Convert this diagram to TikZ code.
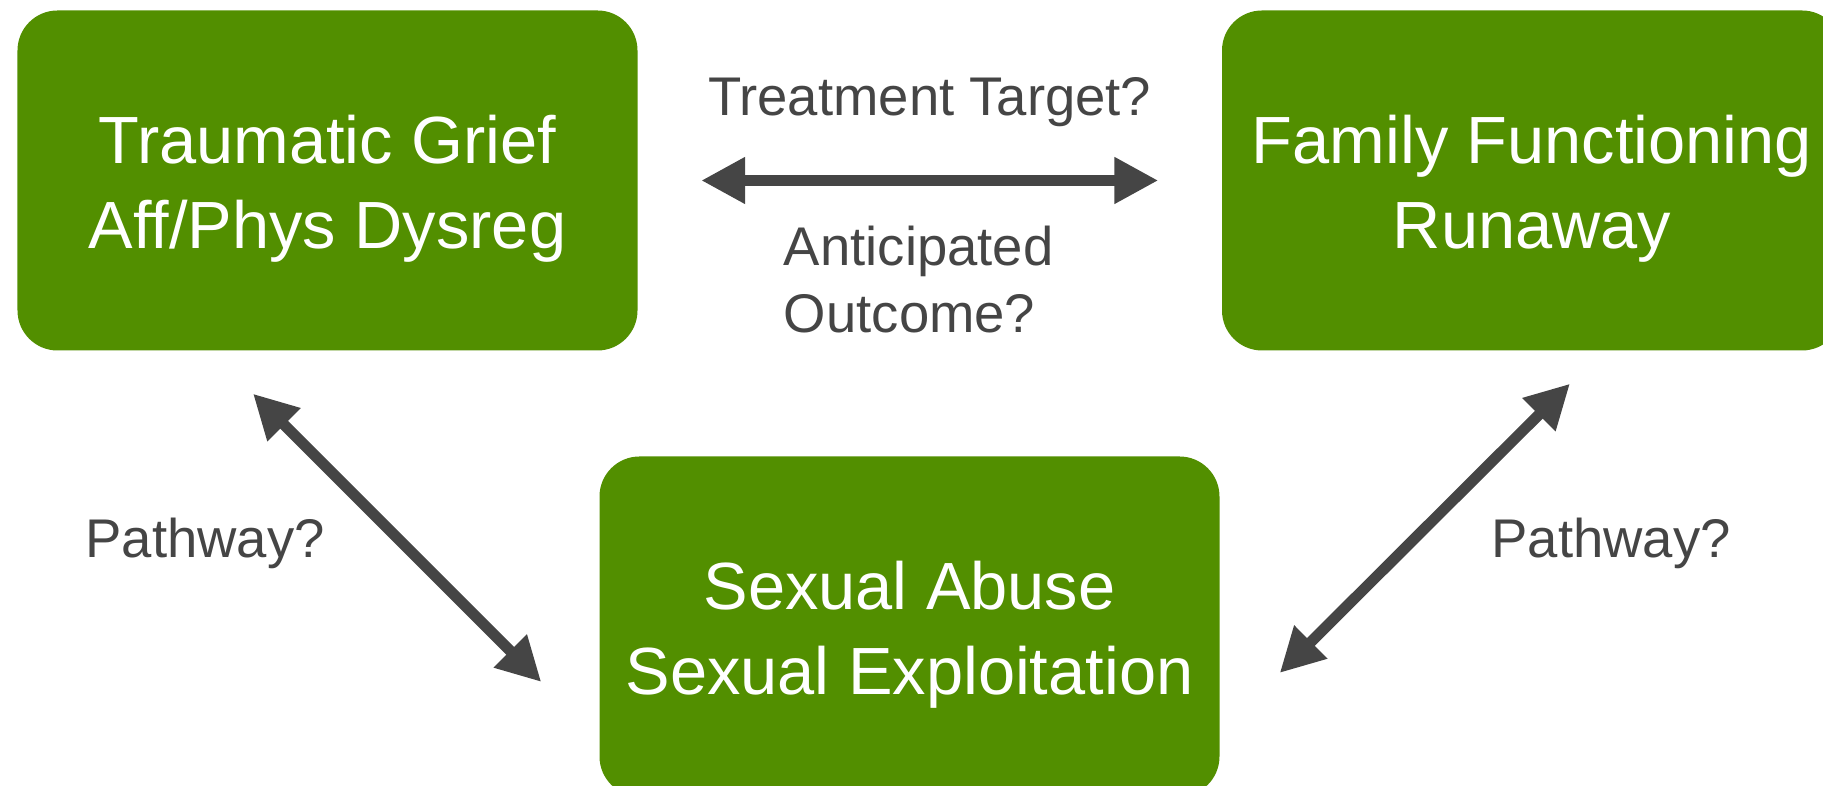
\documentclass[tikz,border=0pt]{standalone}
\usepackage{fontspec}
\setmainfont{Liberation Sans}
\usetikzlibrary{arrows.meta}
\definecolor{boxgreen}{RGB}{82,143,0}
\definecolor{notegray}{RGB}{69,69,69}

\begin{document}
\begin{tikzpicture}[
  block/.style = {
    shape=rectangle,
    rounded corners=4mm,
    minimum width=6.2cm,
    minimum height=3.4cm,
    fill=boxgreen,
    text=white,
    font=\fontsize{19}{24.2}\selectfont,
    execute at begin node={\rule{0pt}{15mm}},
    align=center
  },
  note/.style = {
    text=notegray,
    inner sep=0pt,
    font=\fontsize{15.5}{19}\selectfont
  },
  link/.style = {
    draw=notegray,
    line width=3.1pt,
    {Triangle[length=4.4mm,width=4.4mm]}-{Triangle[length=4.4mm,width=4.4mm]}
  },
]
  \useasboundingbox (0,0) rectangle (18.23,7.86);

  \node (grief)[block] at (3.275,6.055) {Traumatic Grief\\Aff/Phys Dysreg};
  \node (family)[
    right of=grief,
    block,
    xshift=11.045cm
  ] {Family Functioning\\Runaway};
  \node (abuse)[
    below of=grief,
    block,
    xshift=5.82cm,
    yshift=-3.46cm
  ] {Sexual Abuse\\Sexual Exploitation};

  \coordinate (griefend) at ([xshift=-7.45mm,yshift=-4.25mm]grief.south);
  \coordinate (abuseleft) at ([xshift=-5.75mm,yshift=-5.55mm]abuse.west);
  \coordinate (familyend) at ([xshift=3.8mm,yshift=-3.25mm]family.south);
  \coordinate (abuseright) at ([xshift=5.95mm,yshift=-4.65mm]abuse.east);

  \draw[link, shorten <=6.3mm, shorten >=6.3mm] (grief) -- (family)
    node[note, midway, above=4.8mm] (target) {Treatment Target?}
    node[note, midway, below=4.0mm, xshift=-1.1mm, align=left] (outcome) {Anticipated\\Outcome?};
  \draw[link] (griefend) -- (abuseleft);
  \draw[link] (familyend) -- (abuseright);

  \node (leftpath)[note, anchor=base] at (2.05,2.28) {Pathway?};
  \node (rightpath)[note, anchor=base] at (16.11,2.28) {Pathway?};
\end{tikzpicture}
\end{document}
